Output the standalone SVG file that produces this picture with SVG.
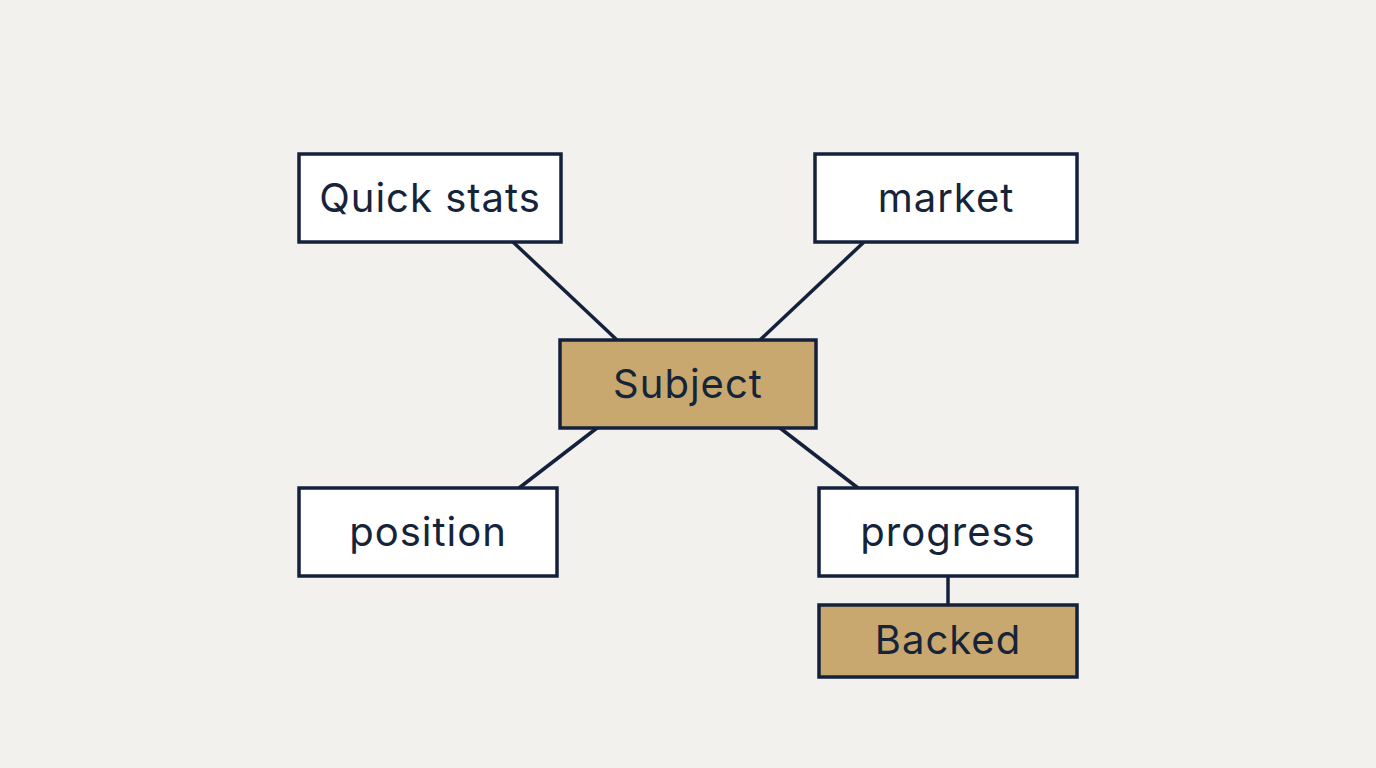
<svg xmlns="http://www.w3.org/2000/svg" width="1376" height="768" viewBox="0 0 1376 768">
<style>
.n{fill:#ffffff;stroke:#14213d;stroke-width:3.5}
.h{fill:#c8a86e;stroke:#14213d;stroke-width:3.5}
.t{font-family:Inter,"Noto Sans",sans-serif;font-size:40px;letter-spacing:1px;fill:#16243a;text-anchor:middle;dominant-baseline:central}
.c{stroke:#14213d;stroke-width:3.5;fill:none}
</style>
<rect width="1376" height="768" fill="#f2f1ed"/>
<g id="connectors">
<line class="c" x1="513" y1="242" x2="617" y2="340"/>
<line class="c" x1="864" y1="242" x2="760" y2="340"/>
<line class="c" x1="597" y1="428" x2="519" y2="488"/>
<line class="c" x1="780" y1="428" x2="858" y2="488"/>
<line class="c" x1="948" y1="576" x2="948" y2="605"/>
</g>
<g id="quick"><rect class="n" x="299" y="154" width="262" height="88"/><text class="t" x="430" y="197">Quick stats</text></g>
<g id="market"><rect class="n" x="815" y="154" width="262" height="88"/><text class="t" x="946" y="197">market</text></g>
<g id="subject"><rect class="h" x="560" y="340" width="256" height="88"/><text class="t" x="688" y="383">Subject</text></g>
<g id="position"><rect class="n" x="299" y="488" width="258" height="88"/><text class="t" x="428" y="531">position</text></g>
<g id="progress"><rect class="n" x="819" y="488" width="258" height="88"/><text class="t" x="948" y="531">progress</text></g>
<g id="backed"><rect class="h" x="819" y="605" width="258" height="72"/><text class="t" x="948" y="639">Backed</text></g>
</svg>
